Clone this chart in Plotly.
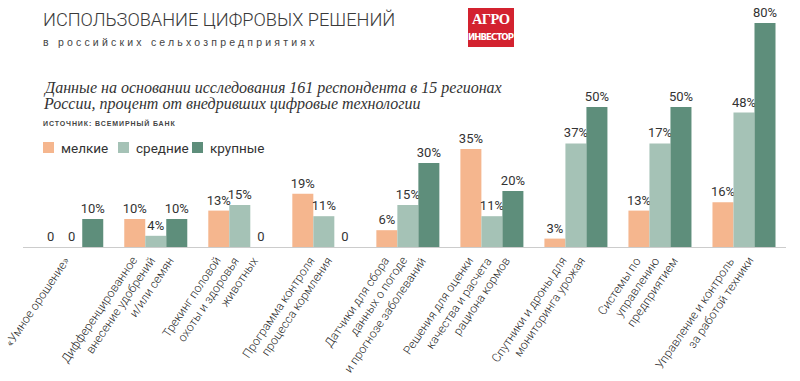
import plotly.graph_objects as go

categories = [
    "«Умное орошение»",
    "Дифференцированное<br>внесение удобрений<br>и/или семян",
    "Трекинг половой<br>охоты и здоровья<br>животных",
    "Программа контроля<br>процесса кормления",
    "Датчики для сбора<br>данных о погоде<br>и прогнозе заболеваний",
    "Решения для оценки<br>качества и расчета<br>рациона кормов",
    "Спутники и дроны для<br>мониторинга урожая",
    "Системы по<br>управлению<br>предприятием",
    "Управление и контроль<br>за работой техники",
]
small = [0, 10, 13, 19, 6, 35, 3, 13, 16]
medium = [0, 4, 15, 11, 15, 11, 37, 37, 48]
large = [10, 10, 0, 0, 30, 20, 50, 50, 80]
# labels as printed in the source (one printed label differs from bar height)
small_labels = ["0", "10%", "13%", "19%", "6%", "35%", "3%", "13%", "16%"]
medium_labels = ["0", "4%", "15%", "11%", "15%", "11%", "37%", "17%", "48%"]
large_labels = ["10%", "10%", "0", "0", "30%", "20%", "50%", "50%", "80%"]

series_names = ["мелкие", "средние", "крупные"]
series_colors = ["#f5b68e", "#a5c2b6", "#5e8e7b"]
series_values = [small, medium, large]
series_labels = [small_labels, medium_labels, large_labels]

SANS = "Roboto, Liberation Sans, sans-serif"
COND = "DejaVu Sans Condensed, Roboto, sans-serif"
SERIF = "Liberation Serif, DejaVu Serif, serif"
TEXT = "#333333"

W, H = 800, 381
L, R_EDGE, TOP, BASE = 23, 786, 23, 247
X_RANGE = [-0.58, 8.5]
UNIT = (R_EDGE - L) / (X_RANGE[1] - X_RANGE[0])  # pixels per category


def px(x):
    return (x - L) / (R_EDGE - L)


def py(y):
    return (BASE - y) / (BASE - TOP)


fig = go.Figure()
for name, vals, labels, color in zip(series_names, series_values, series_labels, series_colors):
    fig.add_trace(go.Bar(
        name=name, x=list(range(len(categories))), y=vals,
        text=labels, textposition="outside", cliponaxis=False,
        constraintext="none",
        textfont=dict(family=SANS, size=13, color=TEXT),
        marker=dict(color=color, line=dict(width=0)),
        hoverinfo="skip", showlegend=False,
    ))

annotations = [
    dict(text="ИСПОЛЬЗОВАНИЕ ЦИФРОВЫХ РЕШЕНИЙ", x=px(41), y=py(20),
         font=dict(family=SANS, size=18.2, color="#3a3a3a", weight=300)),
    dict(text='<span style="letter-spacing:3.2px">в российских сельхозпредприятиях</span>',
         x=px(41), y=py(42), font=dict(family="Liberation Sans, Arial, sans-serif", size=10.5, color="#444")),
    dict(text="<i>Данные на основании исследования 161 респондента в 15 регионах</i>",
         x=px(41), y=py(88), font=dict(family=SERIF, size=16, color=TEXT)),
    dict(text="<i>России, процент от внедривших цифровые технологии</i>",
         x=px(41), y=py(104), font=dict(family=SERIF, size=16, color=TEXT)),
    dict(text='<b><span style="letter-spacing:0.9px">ИСТОЧНИК: ВСЕМИРНЫЙ БАНК</span></b>',
         x=px(41), y=py(123), font=dict(family="Liberation Sans, Arial, sans-serif", size=7, color="#444")),
    dict(text='<b><span style="letter-spacing:-0.6px">АГРО</span></b>', x=px(491), y=py(19), xanchor="center",
         font=dict(family=SERIF, size=14.5, color="white")),
    dict(text='<b><span style="letter-spacing:-0.9px">ИНВЕСТОР</span></b>', x=px(491), y=py(36), xanchor="center",
         font=dict(family=COND, size=9.5, color="white")),
]

shapes = [dict(type="rect", xref="paper", yref="paper", x0=px(468), x1=px(514),
               y0=py(8), y1=py(47), fillcolor="#d3222f", line=dict(width=0), layer="below")]

# legend (drawn as swatches + labels)
legend_x = [43, 118, 192]
for name, color, lx in zip(series_names, series_colors, legend_x):
    shapes.append(dict(type="rect", xref="paper", yref="paper", x0=px(lx), x1=px(lx + 11),
                       y0=py(153), y1=py(142), fillcolor=color, line=dict(width=0)))
    annotations.append(dict(text=name, x=px(lx + 16), y=py(147.5),
                            font=dict(family=SANS, size=13.5, color=TEXT)))

for a in annotations:
    a.setdefault("xanchor", "left")
    a.update(xref="paper", yref="paper", yanchor="middle", showarrow=False)

# category labels: each line rotated, line ends stepping along the axis
LINE_STEP = 18.5  # px between line ends along the axis
for i, cat in enumerate(categories):
    lines = cat.split("<br>")
    n = len(lines)
    for j, line in enumerate(lines):
        off = (j - (n - 1) / 2) * LINE_STEP + (4 if n > 1 else 2)
        annotations.append(dict(
            text=line, x=i + off / UNIT, xref="x", y=py(253), yref="paper",
            xanchor="right", yanchor="top", textangle=-56, showarrow=False,
            borderpad=0, font=dict(family=SANS, size=12, color="#2a2a2a", weight=300)))

fig.update_layout(
    width=W, height=H,
    margin=dict(l=L, r=W - R_EDGE, t=TOP, b=H - BASE),
    paper_bgcolor="white", plot_bgcolor="white",
    barmode="group", bargap=0.25, bargroupgap=0,
    showlegend=False,
    xaxis=dict(range=X_RANGE, tickmode="array", tickvals=list(range(len(categories))),
               showticklabels=False, showline=True,
               linecolor="#cccccc", linewidth=1, ticks="", showgrid=False, zeroline=False,
               automargin=False, fixedrange=True),
    yaxis=dict(range=[0, 80], visible=False, showgrid=False, zeroline=False,
               automargin=False, fixedrange=True),
    annotations=annotations,
    shapes=shapes,
)

fig.write_html("out.html", config={"displayModeBar": False},
               post_script="document.body.style.margin='0';")
